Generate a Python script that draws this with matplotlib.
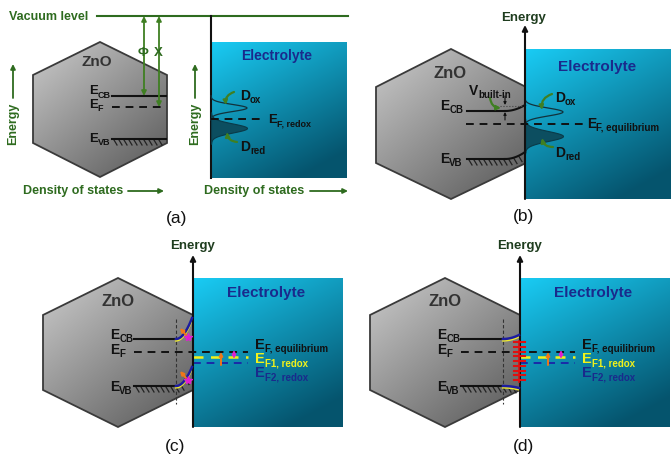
"""
Band diagrams of a ZnO / electrolyte interface, panels (a)-(d).
Drawn on one pixel-scaled axes so the schematic lines up with the reference.
"""
import numpy as np
import matplotlib.pyplot as plt
from matplotlib.patches import Polygon, FancyArrowPatch

plt.rcParams['font.family'] = ['Liberation Sans', 'DejaVu Sans']

W, H = 671, 457

GREEN = '#2e6b1f'
ARROW_GREEN = '#3f7f22'
ENERGY_TXT = '#1f3d1f'
BLUE_TXT = '#1a2a8c'
INK = '#111111'
HEX_EDGE = '#3a3a3a'

# energy levels (pixel rows) of each panel
LEVELS_A = {'vac': 16, 'cb': 96, 'f': 107, 'vb': 139, 'f_redox': 119}
LEVELS_B = {'cb': 111, 'cb_surf': 105, 'f': 124, 'vb': 159, 'vb_surf': 152}
LEVELS_C = {'cb': 339, 'cb_surf': 318, 'f': 352, 'f1': 357, 'f2': 363,
            'vb': 386, 'vb_surf': 367}
LEVELS_D = {'cb': 339, 'cb_surf': 335, 'f': 352, 'f1': 357, 'f2': 363,
            'vb': 386, 'vb_surf': 388}

# density of states of the redox couple: (centre row, peak width, spread)
DOX_A, DRED_A = (108, 36, 3.5), (128, 36, 4.5)
DOX_B, DRED_B = (112, 38, 4.0), (136, 38, 5.0)

fig = plt.figure(figsize=(W / 100, H / 100), dpi=100)
ax = fig.add_axes([0, 0, 1, 1])
ax.set_xlim(0, W)
ax.set_ylim(H, 0)
ax.axis('off')
renderer = fig.canvas.get_renderer()


def grad_fill(verts, c0, c1, wx, wy, z):
    verts = np.asarray(verts, float)
    x0, y0 = verts.min(axis=0)
    x1, y1 = verts.max(axis=0)
    gx, gy = np.meshgrid(np.linspace(0, 1, 200), np.linspace(0, 1, 200))
    t = np.clip(wx * gx + wy * gy, 0, 1)[..., None]
    img = np.array(c0) + (np.array(c1) - np.array(c0)) * t
    im = ax.imshow(img, extent=(x0, x1, y1, y0), origin='upper', zorder=z,
                   interpolation='bilinear', aspect='auto')
    clip = Polygon(verts, closed=True, fc='none', ec='none')
    ax.add_patch(clip)
    im.set_clip_path(clip)


def hexagon(cx, top, hw, y1, y2, bottom):
    verts = [(cx, top), (cx + hw, y1), (cx + hw, y2), (cx, bottom),
             (cx - hw, y2), (cx - hw, y1)]
    grad_fill(verts, (0.80, 0.80, 0.80), (0.38, 0.38, 0.38), 0.5, 0.6, 1)
    ax.add_patch(Polygon(verts, closed=True, fc='none', ec=HEX_EDGE, lw=1.3, zorder=2))


def electrolyte(x0, y0, x1, y1):
    verts = [(x0, y0), (x1, y0), (x1, y1), (x0, y1)]
    grad_fill(verts, (0.10, 0.80, 0.96), (0.02, 0.33, 0.43), 0.4, 0.75, 3)


def sublabel(x, y, main, sub, color=INK, size=10, subsize=7, drop=3):
    t = ax.text(x, y, main, fontsize=size, color=color, weight='bold',
                va='baseline', ha='left', zorder=10)
    bb = t.get_window_extent(renderer=renderer)
    xe = ax.transData.inverted().transform((bb.x1, bb.y0))[0]
    ax.text(xe, y + drop, sub, fontsize=subsize, color=color, weight='bold',
            va='baseline', ha='left', zorder=10)


def arrow(p0, p1, color, lw=1.3, style='-|>', scale=8, rad=0.0, z=8):
    ax.add_patch(FancyArrowPatch(p0, p1, arrowstyle=style, mutation_scale=scale,
                                 color=color, lw=lw, shrinkA=0, shrinkB=0,
                                 connectionstyle=f'arc3,rad={rad}', zorder=z))


def bent(xa, xb, ya, yb, n=30):
    x = np.linspace(xa, xb, n)
    return x, ya + (yb - ya) * ((x - xa) / (xb - xa)) ** 2


def hatch(x, y):
    for xi, yi in zip(x, y):
        ax.plot([xi, xi + 3], [yi + 1, yi + 6], color='#222222', lw=0.9, zorder=6)


def dos(x0, peak, filled):
    yc, amp, s = peak
    y = np.linspace(yc - 3.5 * s, yc + 3.5 * s, 80)
    x = x0 + amp * np.exp(-0.5 * ((y - yc) / s) ** 2)
    if filled:
        ax.fill_betweenx(y, x0, x, color='#0c4e60', lw=0.8, ec='#0a3a48', zorder=6)
    else:
        ax.plot(x, y, color='#12323c', lw=0.9, zorder=6)


def dashed(x0, x1, y, color, lw=1.4):
    ax.plot([x0, x1], [y, y], color=color, lw=lw, ls=(0, (4, 3)), zorder=7)


# ---------------- panel (a) ----------------
hexagon(100, 42, 67, 75, 143, 177)
electrolyte(211, 42, 347, 178)
ax.text(9, 17, 'Vacuum level', fontsize=9, weight='bold', color=GREEN, va='center')
ax.plot([97, 348], [LEVELS_A['vac']] * 2, color=GREEN, lw=1.5, zorder=5)
ax.plot([211, 211], [LEVELS_A['vac'], 178], color=INK, lw=1.5, zorder=5)
ax.text(97, 62, 'ZnO', fontsize=11, weight='bold', color='#333333',
        ha='center', va='center', zorder=9)

ax.plot([112, 166], [LEVELS_A['cb']] * 2, color=INK, lw=1.5, zorder=7)
dashed(112, 166, LEVELS_A['f'], INK)
ax.plot([112, 166], [LEVELS_A['vb']] * 2, color=INK, lw=1.5, zorder=7)
xs = np.arange(114, 164, 5)
hatch(xs, np.full_like(xs, LEVELS_A['vb'], dtype=float))
sublabel(89, 94.5, 'E', 'CB', size=9.5, subsize=6.5)
sublabel(89, 108, 'E', 'F', size=9.5, subsize=6.5)
sublabel(89, 142, 'E', 'VB', size=9.5, subsize=6.5)

arrow((144, LEVELS_A['vac']), (144, LEVELS_A['cb']), ARROW_GREEN, style='<|-|>', scale=7)
arrow((159, LEVELS_A['vac']), (159, LEVELS_A['f']), ARROW_GREEN, style='<|-|>', scale=7)
ax.text(143.5, 53, 'Φ', fontsize=9.5, weight='bold', color=GREEN, ha='center', va='center', zorder=9)
ax.text(158, 53, 'Χ', fontsize=9.5, weight='bold', color=GREEN, ha='center', va='center', zorder=9)

for xe in (13, 195):
    ax.text(xe, 124, 'Energy', rotation=90, fontsize=9, weight='bold', color=GREEN,
            ha='center', va='center')
    arrow((xe, 98), (xe, 64), GREEN, lw=1.3, scale=7)
ax.text(23, 191, 'Density of states', fontsize=9, weight='bold', color=GREEN, va='center')
arrow((128, 191), (164, 191), GREEN, lw=1.3, scale=7)
ax.text(204, 191, 'Density of states', fontsize=9, weight='bold', color=GREEN, va='center')
arrow((310, 191), (348, 191), GREEN, lw=1.3, scale=7)

ax.text(277, 56, 'Electrolyte', fontsize=10, weight='bold', color=BLUE_TXT,
        ha='center', va='center', zorder=9)
dos(211, DOX_A, False)
dos(211, DRED_A, True)
dashed(211, 262, LEVELS_A['f_redox'], INK)
sublabel(268, 123, 'E', 'F, redox', size=9.5, subsize=6.5)
sublabel(240, 100, 'D', 'ox', size=10, subsize=7)
sublabel(240, 151, 'D', 'red', size=10, subsize=7)
arrow((234, 92), (226, 105), ARROW_GREEN, lw=1.6, scale=6, rad=0.4)
arrow((237, 142), (227, 132), ARROW_GREEN, lw=1.6, scale=6, rad=-0.4)
ax.text(177, 218, '(a)', fontsize=12.5, color=INK, ha='center', va='center')

# ---------------- panel (b) ----------------
hexagon(451, 49, 75, 87, 163, 199)
electrolyte(525, 49, 671, 199)
arrow((525, 199), (525, 25), INK, lw=1.5, scale=8)
ax.text(524, 18, 'Energy', fontsize=9.5, weight='bold', color=ENERGY_TXT, ha='center', va='center')
ax.text(450, 74, 'ZnO', fontsize=12, weight='bold', color='#333333',
        ha='center', va='center', zorder=9)
ax.text(597, 67, 'Electrolyte', fontsize=11, weight='bold', color=BLUE_TXT,
        ha='center', va='center', zorder=9)

ax.plot([467, 505], [LEVELS_B['cb']] * 2, color=INK, lw=1.5, zorder=7)
x, y = bent(505, 525, LEVELS_B['cb'], LEVELS_B['cb_surf'])
ax.plot(x, y, color=INK, lw=1.5, zorder=7)
ax.plot([500, 525], [LEVELS_B['cb_surf'] + 1] * 2, color='#444444', lw=0.8, ls=':', zorder=7)
arrow((505, 96), (505, 105), INK, lw=0.8, scale=4)
arrow((505, 120), (505, 112), INK, lw=0.8, scale=4)
dashed(466, 583, LEVELS_B['f'], INK)
ax.plot([467, 505], [LEVELS_B['vb']] * 2, color=INK, lw=1.5, zorder=7)
x, y = bent(505, 525, LEVELS_B['vb'], LEVELS_B['vb_surf'])
ax.plot(x, y, color=INK, lw=1.5, zorder=7)
xs = np.arange(469, 523, 5)
hatch(xs, np.interp(xs, np.r_[467, x], np.r_[LEVELS_B['vb'], y]))
sublabel(440, 110, 'E', 'CB', size=10, subsize=7)
sublabel(440, 163, 'E', 'VB', size=10, subsize=7)
sublabel(469, 95, 'V', 'built-in', size=10, subsize=7)
arrow((490, 98), (501, 108), ARROW_GREEN, lw=1.6, scale=6, rad=0.4)

dos(525, DOX_B, False)
dos(525, DRED_B, True)
sublabel(587, 128, 'E', 'F, equilibrium', size=10, subsize=7)
sublabel(555, 102, 'D', 'ox', size=10, subsize=7)
sublabel(555, 157, 'D', 'red', size=10, subsize=7)
arrow((552, 94), (542, 110), ARROW_GREEN, lw=1.6, scale=6, rad=0.4)
arrow((553, 147), (542, 138), ARROW_GREEN, lw=1.6, scale=6, rad=-0.4)
ax.text(523, 217, '(b)', fontsize=12.5, color=INK, ha='center', va='center')


# ---------------- panels (c) and (d) ----------------
def lower_panel(cx, lv, iface, xline, surface_states):
    hexagon(cx, 278, 75, 315, 390, 427)
    electrolyte(iface, 278, iface + 150, 427)
    arrow((iface, 427), (iface, 255), INK, lw=1.5, scale=8)
    ax.text(iface, 246, 'Energy', fontsize=9.5, weight='bold', color=ENERGY_TXT,
            ha='center', va='center')
    ax.text(cx, 302, 'ZnO', fontsize=12, weight='bold', color='#333333',
            ha='center', va='center', zorder=9)
    ax.text(iface + 73, 293, 'Electrolyte', fontsize=11, weight='bold', color=BLUE_TXT,
            ha='center', va='center', zorder=9)
    ax.plot([xline, xline], [319, 404], color='#333333', lw=0.8, ls=(0, (3, 2)), zorder=6)

    x0 = cx + 16
    ax.plot([x0, xline], [lv['cb']] * 2, color=INK, lw=1.5, zorder=7)
    ax.plot([x0, xline], [lv['vb']] * 2, color=INK, lw=1.5, zorder=7)
    dashed(x0, iface + 55, lv['f'], INK)
    dashed(iface, iface + 55, lv['f1'], '#f2f21a', lw=1.8)
    dashed(iface, iface + 55, lv['f2'], '#1a2aa8', lw=1.4)

    for key in ('cb', 'vb'):
        x, y = bent(xline, iface - 1, lv[key], lv[key + '_surf'])
        ax.plot(x, y + 1.5, color='#f0ec30', lw=1.6, zorder=7)
        ax.plot(x, y, color='#1c1ca0', lw=1.8, zorder=8)
    vb_x, vb_y = bent(xline, iface - 1, lv['vb'], lv['vb_surf'])
    xs = np.arange(x0 + 2, iface - 3, 5)
    hatch(xs, np.interp(xs, np.r_[x0, vb_x], np.r_[lv['vb'], vb_y]))

    if surface_states:
        ax.plot([iface - 1, iface - 1], [341, 382], color='#e01010', lw=1.2, zorder=9)
        for yt in np.linspace(342, 380, 9):
            ax.plot([iface - 6, iface + 5], [yt, yt], color='#e01010', lw=1.5, zorder=9)
    else:
        for key in ('cb', 'vb'):
            yb = lv[key] - 4 if key == 'cb' else lv[key] - 8
            arrow((iface - 7, yb), (iface - 13, yb - 7), '#f07818', lw=1.5, scale=5, z=9)
            ax.plot(iface - 5, yb + 2, marker='*', ms=6, color='#e020d0', zorder=9)

    arrow((iface + 28, lv['f2'] + 2), (iface + 28, lv['f']), '#f07818', lw=1.4, scale=5, z=9)
    arrow((iface + 41, lv['f1']), (iface + 41, lv['f'] - 2), '#e020d0', lw=1.4, scale=5, z=9)

    lx = iface + 62
    sublabel(cx - 8, lv['cb'], 'E', 'CB', size=10, subsize=7)
    sublabel(cx - 8, lv['f'] + 2, 'E', 'F', size=10, subsize=7)
    sublabel(cx - 8, lv['vb'] + 5, 'E', 'VB', size=10, subsize=7)
    sublabel(lx, 349, 'E', 'F, equilibrium', size=10.5, subsize=7)
    sublabel(lx, 363, 'E', 'F1, redox', color='#f2f21a', size=10.5, subsize=7)
    sublabel(lx, 377, 'E', 'F2, redox', color=BLUE_TXT, size=10.5, subsize=7)


lower_panel(118, LEVELS_C, 193, 176, False)
ax.text(175, 447, '(c)', fontsize=12.5, color=INK, ha='center', va='center')
lower_panel(445, LEVELS_D, 520, 503, True)
ax.text(523, 447, '(d)', fontsize=12.5, color=INK, ha='center', va='center')

fig.savefig('out.png', dpi=100, facecolor='white')
